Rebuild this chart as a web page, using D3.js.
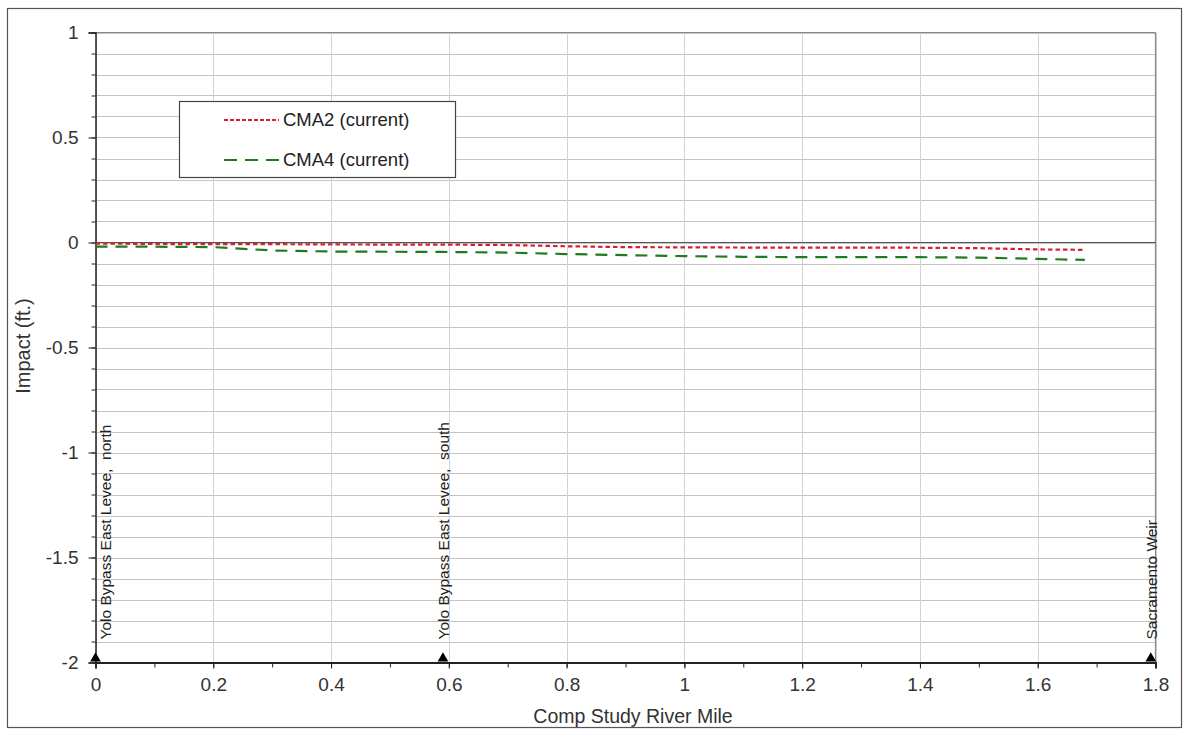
<!DOCTYPE html>
<html>
<head>
<meta charset="utf-8">
<script src="https://cdn.jsdelivr.net/npm/d3@7"></script>
<style>
  html, body { margin: 0; padding: 0; background: #fff; }
  svg { display: block; font-family: "Liberation Sans", Arial, sans-serif; }
  text { white-space: pre; }
</style>
</head>
<body>
<svg id="chart" width="1184" height="729"></svg>
<script>
// ---- data ----
const riverMile = [0, 0.1, 0.2, 0.3, 0.4, 0.5, 0.59, 0.7, 0.8, 0.9, 1.0, 1.1, 1.2, 1.3, 1.4, 1.5, 1.6, 1.68];
const cma2 = [-0.005, -0.007, -0.008, -0.008, -0.009, -0.010, -0.010, -0.012, -0.018, -0.022, -0.023, -0.024, -0.024, -0.024, -0.025, -0.027, -0.033, -0.035];
const cma4 = [-0.020, -0.020, -0.022, -0.038, -0.043, -0.044, -0.045, -0.048, -0.055, -0.060, -0.065, -0.068, -0.070, -0.070, -0.070, -0.072, -0.078, -0.083];
const seriesNames = ["CMA2 (current)", "CMA4 (current)"];
const landmarkMiles = [0, 0.59, 1.792];
const landmarkNames = ["Yolo Bypass East Levee,  north", "Yolo Bypass East Levee,  south", "Sacramento Weir"];
const xTicks = [0, 0.2, 0.4, 0.6, 0.8, 1, 1.2, 1.4, 1.6, 1.8];
const yTicks = [1, 0.5, 0, -0.5, -1, -1.5, -2];
const xTitle = "Comp Study River Mile";
const yTitle = "Impact (ft.)";

// ---- layout ----
const svg = d3.select("#chart");
const L = 95.5, R = 1155.5, T = 32.5, B = 662.5;
const x = d3.scaleLinear().domain([0, 1.8]).range([L, R]);
const y = d3.scaleLinear().domain([-2, 1]).range([B, T]);
const fmt = d => String(d); // plain hyphen minus like the reference

// outer frame
svg.append("rect").attr("x", 7.5).attr("y", 8.5).attr("width", 1174).attr("height", 719)
  .attr("fill", "#fff").attr("stroke", "#555").attr("stroke-width", 1.2);

// grid
const g = svg.append("g");
const yMinor = d3.range(-20, 11).map(d => d / 10);
g.selectAll("line.hg").data(yMinor).enter().append("line")
  .attr("x1", L).attr("x2", R).attr("y1", d => Math.round(y(d)) + 0.5).attr("y2", d => Math.round(y(d)) + 0.5)
  .attr("stroke", "#c4c4c4").attr("stroke-width", 1);
g.selectAll("line.vg").data(xTicks).enter().append("line")
  .attr("y1", T).attr("y2", B).attr("x1", d => Math.round(x(d)) + 0.5).attr("x2", d => Math.round(x(d)) + 0.5)
  .attr("stroke", "#d2d2d2").attr("stroke-width", 1);

// plot border top/right
svg.append("line").attr("x1", L).attr("x2", R).attr("y1", T).attr("y2", T).attr("stroke", "#888").attr("stroke-width", 1.2);
svg.append("line").attr("x1", R).attr("x2", R).attr("y1", T).attr("y2", B).attr("stroke", "#888").attr("stroke-width", 1.2);
// zero line
svg.append("line").attr("x1", L).attr("x2", R).attr("y1", y(0)).attr("y2", y(0)).attr("stroke", "#555").attr("stroke-width", 1.2);

// axes
const tickFont = 19;
svg.append("g").attr("transform", `translate(${L},0)`)
  .call(d3.axisLeft(y).tickValues(yMinor).tickSize(4).tickFormat(""))
  .call(s => s.select(".domain").remove())
  .call(s => s.selectAll("line").attr("stroke", "#222"));
svg.append("g").attr("transform", `translate(${L},0)`)
  .call(d3.axisLeft(y).tickValues(yTicks).tickSize(7).tickPadding(10).tickFormat(fmt))
  .call(s => s.select(".domain").attr("stroke", "#222").attr("stroke-width", 1.5))
  .call(s => s.selectAll("line").attr("stroke", "#222"))
  .call(s => s.selectAll("text").attr("font-size", tickFont).attr("fill", "#333").attr("font-family", "Liberation Sans, Arial, sans-serif"));

const xMinor = d3.range(0, 19).map(d => d / 10);
svg.append("g").attr("transform", `translate(0,${B})`)
  .call(d3.axisBottom(x).tickValues(xMinor).tickSize(5).tickFormat(""))
  .call(s => s.select(".domain").remove())
  .call(s => s.selectAll("line").attr("stroke", "#222"));
svg.append("g").attr("transform", `translate(0,${B})`)
  .call(d3.axisBottom(x).tickValues(xTicks).tickSize(6).tickPadding(9).tickFormat(fmt))
  .call(s => s.select(".domain").attr("stroke", "#222").attr("stroke-width", 1.8))
  .call(s => s.selectAll("line").attr("stroke", "#222"))
  .call(s => s.selectAll("text").attr("font-size", tickFont).attr("fill", "#333").attr("font-family", "Liberation Sans, Arial, sans-serif"));

// axis titles
svg.append("text").attr("x", 633).attr("y", 723).attr("text-anchor", "middle")
  .attr("font-size", 19.5).attr("fill", "#333").text(xTitle);
svg.append("text").attr("transform", `translate(30,${346}) rotate(-90)`).attr("text-anchor", "middle")
  .attr("font-size", 20).attr("fill", "#333").text(yTitle);

// series lines
const line = d3.line().x((d, i) => x(riverMile[i])).y(d => y(d));
svg.append("path").datum(cma4).attr("d", line).attr("fill", "none")
  .attr("stroke", "#1e7b1e").attr("stroke-width", 2.2).attr("stroke-dasharray", "12,8");
svg.append("path").datum(cma2).attr("d", line).attr("fill", "none")
  .attr("stroke", "#dc1e32").attr("stroke-width", 2.2).attr("stroke-dasharray", "4.5,3");

// landmarks
const lm = svg.append("g");
landmarkMiles.forEach((m, i) => {
  const px = x(m);
  const tx = Math.max(px + 6, L + 15);
  lm.append("path").attr("d", d3.symbol().type(d3.symbolTriangle).size(50)())
    .attr("transform", `translate(${px},${B - 4})`).attr("fill", "#000");
  lm.append("text").attr("transform", `translate(${tx},${B - 23}) rotate(-90)`)
    .attr("font-size", 15.5).attr("fill", "#222").text(landmarkNames[i]);
});

// legend
const lg = svg.append("g");
lg.append("rect").attr("x", 179.5).attr("y", 101.5).attr("width", 276).attr("height", 76)
  .attr("fill", "#fff").attr("stroke", "#444").attr("stroke-width", 1.2);
const legStyles = [
  { color: "#dc1e32", dash: "4,2", w: 2 },
  { color: "#1e7b1e", dash: "13,8", w: 2.2 }
];
seriesNames.forEach((n, i) => {
  const ly = 120 + i * 40;
  lg.append("line").attr("x1", 224).attr("x2", 279).attr("y1", ly).attr("y2", ly)
    .attr("stroke", legStyles[i].color).attr("stroke-width", legStyles[i].w).attr("stroke-dasharray", legStyles[i].dash);
  lg.append("text").attr("x", 283).attr("y", ly + 6).attr("font-size", 18.5).attr("fill", "#222").text(n);
});
</script>
</body>
</html>
